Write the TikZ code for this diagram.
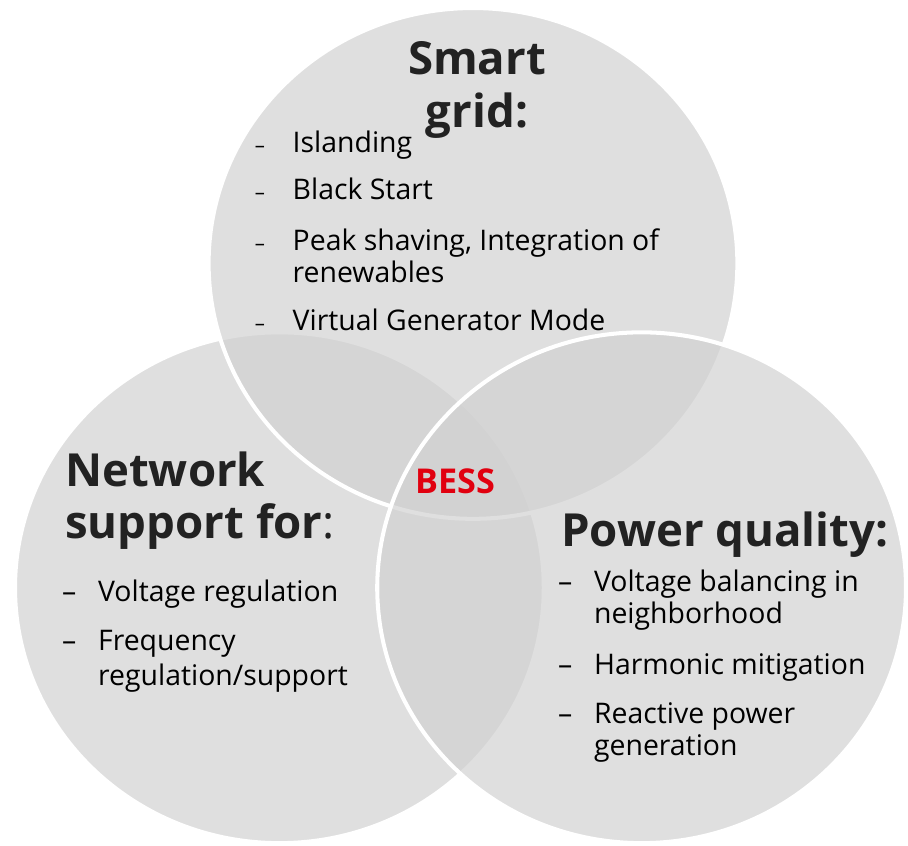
\documentclass[tikz,border=0pt]{standalone}
\usepackage{fontspec}
\setmainfont{Open Sans}
\usepackage{xcolor}
\usetikzlibrary{shapes.geometric}
\definecolor{circgray}{RGB}{209,209,209}
\definecolor{headgray}{RGB}{34,34,34}
\definecolor{bessred}{RGB}{225,0,15}
\tikzset{
	venn/.style={ellipse, minimum width=10.6cm, minimum height=10.24cm, inner sep=0pt,
		fill=circgray, fill opacity=0.68, draw=white, line width=2.3pt},
	head/.style={font=\fontsize{26}{30}\selectfont\bfseries, text=headgray, inner sep=0pt},
	item/.style={font=\fontsize{16.2}{18}\selectfont, inner sep=0pt, anchor=base west},
	dashmark/.style={item, font=\fontsize{16.2}{18}\selectfont}
}
\begin{document}
\begin{tikzpicture}[x=0.02cm,y=-0.02cm]
	\fill[white] (0,0) rectangle (908,846);
	% the three circles
	\node[venn] (network) at (280,589) {};
	\node[venn] (grid) at (474,264) {};
	\node[venn] (quality) at (643,589) {};
	
	% smart grid
	\node[head, anchor=base] (gridhead1) at (478,75) {Smart};
	\node[head, anchor=base] (gridhead2) at (478,128) {grid:};
	\foreach \y/\txt [count=\i] in {153/Islanding, 200/Black Start, 251/{Peak shaving, Integration of}, 331/Virtual Generator Mode}{
		\node[dashmark, font=\fontsize{11.5}{13}\selectfont] (griddash\i) at (255,\y) {--};
		\node[item] (griditem\i) at (293,\y) {\txt};
	}
	\node[item] (griditem3b) at (293,283) {renewables};
	
	% network support
	\node[head, anchor=base west] (nethead1) at (65,488) {Network};
	\node[head, anchor=base west] (nethead2) at (65,540) {support for\mdseries:};
	\foreach \y/\txt [count=\i] in {603/Voltage regulation, 652/Frequency}{
		\node[dashmark] (netdash\i) at (62,\y) {--};
		\node[item] (netitem\i) at (98,\y) {\txt};
	}
	\node[item] (netitem2b) at (98,687) {regulation/support};
	
	% power quality
	\node[head, anchor=base west] (qualhead) at (562,548) {Power quality:};
	\foreach \y/\txt [count=\i] in {593/Voltage balancing in, 676/Harmonic mitigation, 725/Reactive power}{
		\node[dashmark] (qualdash\i) at (559,\y) {--};
		\node[item] (qualitem\i) at (595,\y) {\txt};
	}
	\node[item] (qualitem1b) at (595,625) {neighborhood};
	\node[item] (qualitem3b) at (595,757) {generation};
	
	\node[font=\fontsize{19.5}{22}\selectfont\bfseries, text=bessred, anchor=base, inner sep=0pt] (bess) at (456,495) {BESS};
\end{tikzpicture}
\end{document}
